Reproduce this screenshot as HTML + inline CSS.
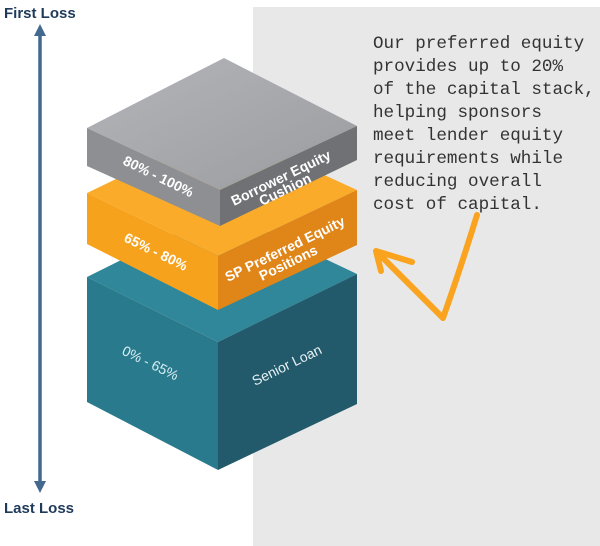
<!DOCTYPE html>
<html><head><meta charset="utf-8"><style>
html,body{margin:0;padding:0;background:#fff;}
svg{display:block;}
</style></head><body>
<svg width="600" height="546" viewBox="0 0 600 546" xmlns="http://www.w3.org/2000/svg">
<defs>
<linearGradient id="gt" x1="0" y1="0" x2="1" y2="1"><stop offset="0" stop-color="#b3b5b8"/><stop offset="1" stop-color="#9a9c9f"/></linearGradient>
</defs>
<rect x="253" y="7" width="347" height="539" fill="#e8e8e8"/>
<line x1="40" y1="34" x2="40" y2="482" stroke="#44698f" stroke-width="3.5"/>
<polygon points="40,24 34,36 46,36" fill="#44698f"/>
<polygon points="40,493 34,481 46,481" fill="#44698f"/>
<text x="4" y="18" font-family="Liberation Sans, sans-serif" font-weight="bold" font-size="15" fill="#1f3a5a">First Loss</text>
<text x="4" y="513" font-family="Liberation Sans, sans-serif" font-weight="bold" font-size="15" fill="#1f3a5a">Last Loss</text>
<polygon points="87,277 222,210 357,274 218,342" fill="#2f8799"/>
<polygon points="87,277 218,342 218,470 87,402" fill="#2a7a8d"/>
<polygon points="218,342 357,274 357,404 218,470" fill="#22596b"/>
<polygon points="87,193 222,128 357,190 218,256" fill="#fbab2a"/>
<polygon points="87,193 218,256 218,310 87,244" fill="#f7a21c"/>
<polygon points="218,256 357,190 357,245 218,310" fill="#e08518"/>
<polygon points="87,128 224,58 357,126 220,190" fill="url(#gt)"/>
<polygon points="87,128 220,190 220,226 87,166" fill="#8d8f92"/>
<polygon points="220,190 357,126 357,160 220,226" fill="#6f7174"/>
<g font-family="Liberation Sans, sans-serif" fill="#fff" font-size="14" font-weight="bold">
<text transform="translate(122,164) rotate(26)">80% - 100%</text>
<text transform="translate(234,206) rotate(-26)">Borrower Equity</text>
<text transform="translate(262,206) rotate(-26)">Cushion</text>
<text transform="translate(123,241) rotate(26)">65% - 80%</text>
<text transform="translate(228,282) rotate(-26)">SP Preferred Equity</text>
<text transform="translate(262,281) rotate(-26)">Positions</text>
<text transform="translate(121,354) rotate(26)" fill="#d8eef2" font-weight="normal">0% - 65%</text>
<text transform="translate(255,386) rotate(-26)" fill="#e6f1f4" font-weight="normal">Senior Loan</text>
</g>
<g font-family="Liberation Mono, monospace" font-size="17.6" fill="#333">
<text x="373" y="48">Our preferred equity</text>
<text x="373" y="71">provides up to 20%</text>
<text x="373" y="94">of the capital stack,</text>
<text x="373" y="117">helping sponsors</text>
<text x="373" y="140">meet lender equity</text>
<text x="373" y="163">requirements while</text>
<text x="373" y="186">reducing overall</text>
<text x="373" y="209">cost of capital.</text>
</g>
<g stroke="#f9a31e" stroke-width="6" fill="none" stroke-linecap="round" stroke-linejoin="round">
<path d="M477,215 Q460,270 443,318 L378,253"/>
<path d="M376,251 L381,271 M376,251 L412,262"/>
</g>
</svg>
</body></html>
